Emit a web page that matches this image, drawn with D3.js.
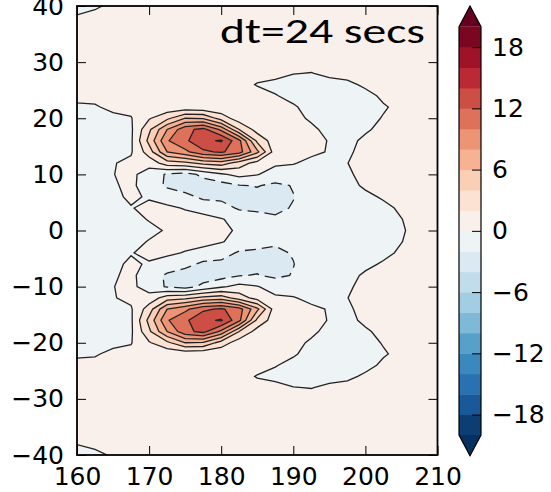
<!DOCTYPE html>
<html>
<head>
<meta charset="utf-8">
<script src="https://cdn.jsdelivr.net/npm/d3@7"></script>
<style>
  body { margin: 0; background: #fff; }
  svg { display: block; }
</style>
</head>
<body>
<div id="chart"></div>
<script>

// grid of the field (2.5 deg lon x 2 deg lat)
let lon = [160, 162.5, 165, 167.5, 170, 172.5, 175, 177.5, 180, 182.5, 185,
           187.5, 190, 192.5, 195, 197.5, 200, 202.5, 205, 207.5, 210];
let lat = [40, 38, 36, 34, 32, 30, 28, 26, 24, 22, 20, 18, 16, 14, 12, 10, 8, 6, 4, 2, 0,
           -2, -4, -6, -8, -10, -12, -14, -16, -18, -20, -22, -24, -26, -28, -30, -32, -34, -36, -38, -40];

let field = [
  [-0.6,-0.2, 0.3, 0.6, 0.6, 0.6, 0.6, 0.6, 0.6, 0.6, 0.6, 0.6, 0.6, 0.6, 0.6, 0.6, 0.6, 0.6, 0.6, 0.6, 0.6],
  [0.15, 0.4, 0.6, 0.6, 0.6, 0.6, 0.6, 0.6, 0.6, 0.6, 0.6, 0.6, 0.6, 0.6, 0.6, 0.6, 0.6, 0.6, 0.6, 0.6, 0.6],
  [ 0.6, 0.6, 0.6, 0.6, 0.6, 0.6, 0.6, 0.6, 0.6, 0.6, 0.6, 0.6, 0.6, 0.6, 0.6, 0.6, 0.6, 0.6, 0.6, 0.6, 0.6],
  [ 0.6, 0.6, 0.6, 0.6, 0.6, 0.6, 0.6, 0.6, 0.6, 0.6, 0.6, 0.6, 0.6, 0.6, 0.6, 0.6, 0.6, 0.6, 0.6, 0.6, 0.6],
  [ 0.6, 0.6, 0.6, 0.6, 0.6, 0.6, 0.6, 0.6, 0.6, 0.6, 0.6, 0.6, 0.6, 0.6, 0.6, 0.6, 0.6, 0.6, 0.6, 0.6, 0.6],
  [ 0.6, 0.6, 0.6, 0.6, 0.6, 0.6, 0.6, 0.6, 0.6, 0.6, 0.6, 0.6, 0.6, 0.6, 0.6, 0.6, 0.6, 0.6, 0.6, 0.6, 0.6],
  [ 0.6, 0.6, 0.6, 0.6, 0.6, 0.6, 0.6, 0.6, 0.6, 0.6, 0.6, 0.6,0.05,-0.05, 0.3, 0.6, 0.6, 0.6, 0.6, 0.6, 0.6],
  [ 0.6, 0.6, 0.6, 0.6, 0.6, 0.6, 0.6, 0.6, 0.6, 0.6,-0.1,-0.5,-0.6,-0.6,-0.5,-0.4, 0.3, 0.6, 0.6, 0.6, 0.6],
  [ 0.5, 0.6, 0.6, 0.6, 0.6, 0.6, 0.6, 0.6, 0.6, 0.6, 0.6, 0.1,-0.5,-0.6,-0.6,-0.6,-0.5, 0.3, 0.6, 0.6, 0.6],
  [-0.3,-0.2, 0.5, 0.5, 0.6, 0.6, 0.6, 0.4, 0.5, 0.6, 0.6, 0.5, 0.2,-0.6,-0.6,-0.6,-0.6,-0.15,0.4, 0.6, 0.6],
  [-0.6,-0.6,-0.5,-0.1, 1.8, 3.5, 6.0, 5.8, 3.1, 0.9, 0.6, 0.6, 0.6,-0.3,-0.6,-0.6,-0.5, 0.1, 0.6, 0.6, 0.6],
  [-0.6,-0.6,-0.6,-0.3, 3.6, 8.0,11.4,12.6, 9.5, 4.0, 1.2, 0.7, 0.6, 0.4,-0.6,-0.6,-0.2, 0.4, 0.6, 0.6, 0.6],
  [-0.6,-0.6,-0.6,-0.3, 4.6, 9.8,11.6,13.6,14.2,10.5, 3.5, 0.9, 0.6, 0.6,-0.1,-0.4, 0.3, 0.6, 0.6, 0.6, 0.6],
  [-0.6,-0.6,-0.5,-0.2, 3.0, 8.0, 9.5,11.6,12.3,10.8, 6.5, 0.9, 0.5, 0.3,-0.1,-0.2, 0.4, 0.6, 0.6, 0.6, 0.6],
  [-0.6,-0.5,-0.1, 0.4, 0.8, 3.0, 3.5, 4.5, 5.0, 3.0, 1.2, 0.3, 0.1,-0.4,-0.6,-0.02,0.5, 0.6, 0.6, 0.6, 0.6],
  [-0.6,-0.5,-0.05,0.5,-1.0,-2.2,-2.8,-1.5,-0.3, 0.6, 0.1,-0.8,-0.8,-0.9,-0.7,-0.2, 0.4, 0.6, 0.6, 0.6, 0.6],
  [-0.6,-0.5,-0.2, 0.4,-1.0,-2.3,-3.0,-3.0,-2.8,-2.1,-1.9,-2.4,-1.9,-1.3,-0.7,-0.4, 0.2, 0.6, 0.6, 0.6, 0.6],
  [-0.6,-0.6,-0.4, 0.3,-0.2,-0.8,-1.4,-2.4,-2.6,-2.6,-2.6,-2.5,-2.05,-1.2,-0.7,-0.6,-0.3,0.15, 0.6, 0.6, 0.6],
  [-0.6,-0.6,-0.5,-0.1, 0.5, 0.3,-0.1,-0.8,-1.0,-2.3,-2.5,-2.3,-1.9,-1.1,-0.7,-0.7,-0.6,-0.3, 0.2, 0.6, 0.6],
  [-0.6,-0.6,-0.6,-0.5, 0.1, 0.6, 0.5, 0.7, 0.1,-0.5,-1.0,-1.8,-1.2,-0.9,-0.7,-0.7,-0.6,-0.5,-0.03,0.5, 0.6],
  [-0.6,-0.6,-0.6,-0.5,-0.4,0.15, 0.6, 0.6, 0.5,-0.3,-0.6,-0.7,-0.8,-0.8,-0.7,-0.7,-0.6,-0.55,-0.15,0.5,0.6],
  [-0.6,-0.6,-0.6,-0.5, 0.1, 0.6, 0.5, 0.7, 0.1,-0.5,-1.0,-1.8,-1.2,-0.9,-0.7,-0.7,-0.6,-0.5,-0.03,0.5, 0.6],
  [-0.6,-0.6,-0.5,-0.1, 0.5, 0.3,-0.1,-0.8,-1.0,-2.3,-2.5,-2.3,-1.9,-1.1,-0.7,-0.7,-0.6,-0.3, 0.2, 0.6, 0.6],
  [-0.6,-0.6,-0.4, 0.3,-0.2,-0.8,-1.4,-2.4,-2.6,-2.6,-2.6,-2.5,-2.05,-1.2,-0.7,-0.6,-0.3,0.15, 0.6, 0.6, 0.6],
  [-0.6,-0.5,-0.2, 0.4,-1.0,-2.3,-3.0,-3.0,-2.8,-2.1,-1.9,-2.4,-1.9,-1.3,-0.7,-0.4, 0.2, 0.6, 0.6, 0.6, 0.6],
  [-0.6,-0.5,-0.05,0.5,-1.0,-2.2,-2.8,-1.5,-0.3, 0.6, 0.1,-0.8,-0.8,-0.9,-0.7,-0.2, 0.4, 0.6, 0.6, 0.6, 0.6],
  [-0.6,-0.5,-0.1, 0.4, 0.8, 3.0, 3.5, 4.5, 5.0, 3.0, 1.2, 0.3, 0.1,-0.4,-0.6,-0.02,0.5, 0.6, 0.6, 0.6, 0.6],
  [-0.6,-0.6,-0.5,-0.2, 3.0, 8.0, 9.5,11.6,12.3,10.8, 6.5, 0.9, 0.5, 0.3,-0.1,-0.2, 0.4, 0.6, 0.6, 0.6, 0.6],
  [-0.6,-0.6,-0.6,-0.3, 4.6, 9.8,11.6,13.6,14.2,10.5, 3.5, 0.9, 0.6, 0.6,-0.1,-0.4, 0.3, 0.6, 0.6, 0.6, 0.6],
  [-0.6,-0.6,-0.6,-0.3, 3.6, 8.0,11.4,12.6, 9.5, 4.0, 1.2, 0.7, 0.6, 0.4,-0.6,-0.6,-0.2, 0.4, 0.6, 0.6, 0.6],
  [-0.6,-0.6,-0.5,-0.1, 1.8, 3.5, 6.0, 5.8, 3.1, 0.9, 0.6, 0.6, 0.6,-0.3,-0.6,-0.6,-0.5, 0.1, 0.6, 0.6, 0.6],
  [-0.3,-0.2, 0.5, 0.5, 0.6, 0.6, 0.6, 0.4, 0.5, 0.6, 0.6, 0.5, 0.2,-0.6,-0.6,-0.6,-0.6,-0.15,0.4, 0.6, 0.6],
  [ 0.5, 0.6, 0.6, 0.6, 0.6, 0.6, 0.6, 0.6, 0.6, 0.6, 0.6, 0.1,-0.5,-0.6,-0.6,-0.6,-0.5, 0.3, 0.6, 0.6, 0.6],
  [ 0.6, 0.6, 0.6, 0.6, 0.6, 0.6, 0.6, 0.6, 0.6, 0.6,-0.1,-0.5,-0.6,-0.6,-0.5,-0.4, 0.3, 0.6, 0.6, 0.6, 0.6],
  [ 0.6, 0.6, 0.6, 0.6, 0.6, 0.6, 0.6, 0.6, 0.6, 0.6, 0.6, 0.6,0.05,-0.05, 0.3, 0.6, 0.6, 0.6, 0.6, 0.6, 0.6],
  [ 0.6, 0.6, 0.6, 0.6, 0.6, 0.6, 0.6, 0.6, 0.6, 0.6, 0.6, 0.6, 0.6, 0.6, 0.6, 0.6, 0.6, 0.6, 0.6, 0.6, 0.6],
  [ 0.6, 0.6, 0.6, 0.6, 0.6, 0.6, 0.6, 0.6, 0.6, 0.6, 0.6, 0.6, 0.6, 0.6, 0.6, 0.6, 0.6, 0.6, 0.6, 0.6, 0.6],
  [ 0.6, 0.6, 0.6, 0.6, 0.6, 0.6, 0.6, 0.6, 0.6, 0.6, 0.6, 0.6, 0.6, 0.6, 0.6, 0.6, 0.6, 0.6, 0.6, 0.6, 0.6],
  [ 0.6, 0.6, 0.6, 0.6, 0.6, 0.6, 0.6, 0.6, 0.6, 0.6, 0.6, 0.6, 0.6, 0.6, 0.6, 0.6, 0.6, 0.6, 0.6, 0.6, 0.6],
  [0.05, 0.4, 0.6, 0.6, 0.6, 0.6, 0.6, 0.6, 0.6, 0.6, 0.6, 0.6, 0.6, 0.6, 0.6, 0.6, 0.6, 0.6, 0.6, 0.6, 0.6],
  [-0.7,-0.4, 0.2, 0.6, 0.6, 0.6, 0.6, 0.6, 0.6, 0.6, 0.6, 0.6, 0.6, 0.6, 0.6, 0.6, 0.6, 0.6, 0.6, 0.6, 0.6]
];

let levels = [-20, -18, -16, -14, -12, -10, -8, -6, -4, -2, 0, 2, 4, 6, 8, 10, 12, 14, 16, 18, 20];
let cbarTicks = [-18, -12, -6, 0, 6, 12, 18];
let xTicks = [160, 170, 180, 190, 200, 210];
let yTicks = [-40, -30, -20, -10, 0, 10, 20, 30, 40];
let label = 'dt=24 secs';

const W = 551, H = 492;
const svg = d3.select('#chart').append('svg').attr('width', W).attr('height', H);

const x = d3.scaleLinear().domain([160, 210]).range([77, 437.5]);
const y = d3.scaleLinear().domain([-40, 40]).range([455, 6]);

// RdBu reversed, linear between the brewer stops like matplotlib does
const rdbu = ['#053061', '#2166ac', '#4393c3', '#92c5de', '#d1e5f0', '#f7f7f7',
              '#fddbc7', '#f4a582', '#d6604d', '#b2182b', '#67001f'];
const cmap = d3.scaleLinear().domain(rdbu.map((c, i) => i / 10)).range(rdbu).interpolate(d3.interpolateRgb);
const norm = d3.scaleLinear().domain([levels[0], levels[levels.length - 1]]).range([0, 1]);
let bandColor = function(lo){
  if (lo >= levels[levels.length - 1]) return cmap(1);
  return cmap(norm(lo + 1));
};

// contours
const nx = lon.length, ny = lat.length;
const bands = d3.contours().size([nx, ny]).thresholds(levels)(field.flat());
const gx = d3.scaleLinear().domain([0.5, nx - 0.5]).range([lon[0], lon[nx - 1]]);
const gy = d3.scaleLinear().domain([0.5, ny - 0.5]).range([lat[0], lat[ny - 1]]);
const path = d3.geoPath(d3.geoTransform({
  point: function(px, py){ this.stream.point(x(gx(px)), y(gy(py))); }
}));

svg.append('clipPath').attr('id', 'plotClip')
  .append('rect').attr('x', x(160)).attr('y', y(40))
  .attr('width', x(210) - x(160)).attr('height', y(-40) - y(40));

const plot = svg.append('g').attr('clip-path', 'url(#plotClip)');
plot.append('g').selectAll('path').data(bands).join('path')
  .attr('d', path)
  .attr('fill', d => bandColor(d.value));
plot.append('g').selectAll('path').data(bands).join('path')
  .attr('d', path)
  .attr('fill', 'none')
  .attr('stroke', '#222')
  .attr('stroke-width', 1.3)
  .attr('stroke-dasharray', d => d.value < 0 ? '11,6' : null);

// annotation
svg.append('text')
  .attr('x', 220).attr('y', 43)
  .attr('font-family', 'Carlito, Calibri, Lato, "Open Sans", sans-serif')
  .attr('font-size', 34)
  .attr('fill', '#000')
  .attr('textLength', 205)
  .attr('lengthAdjust', 'spacingAndGlyphs')
  .text(label);

// axes, ticks inside on all four sides
const tickFont = '"DejaVu Sans", sans-serif';
let styleAxis = function(g){
  g.select('.domain').remove();
  g.selectAll('.tick line').attr('stroke', '#000').attr('stroke-width', 1);
  g.selectAll('.tick text').attr('fill', '#000');
  g.attr('font-family', tickFont).attr('font-size', 25);
};
svg.append('g').attr('transform', `translate(0,${y(-40)})`)
  .call(d3.axisBottom(x).tickValues(xTicks).tickSize(-9).tickPadding(12).tickFormat(d3.format('d')))
  .call(styleAxis);
svg.append('g').attr('transform', `translate(0,${y(40)})`)
  .call(d3.axisTop(x).tickValues(xTicks).tickSize(-9).tickFormat(''))
  .call(styleAxis);
svg.append('g').attr('transform', `translate(${x(160)},0)`)
  .call(d3.axisLeft(y).tickValues(yTicks).tickSize(-9).tickPadding(13).tickFormat(d3.format('d')))
  .call(styleAxis);
svg.append('g').attr('transform', `translate(${x(210)},0)`)
  .call(d3.axisRight(y).tickValues(yTicks).tickSize(-9).tickFormat(''))
  .call(styleAxis);

svg.append('rect')
  .attr('x', x(160)).attr('y', y(40))
  .attr('width', x(210) - x(160)).attr('height', y(-40) - y(40))
  .attr('fill', 'none').attr('stroke', '#000').attr('stroke-width', 1.8);

// colorbar with extend both
const cbX0 = 459, cbX1 = 481;
const cy = d3.scaleLinear().domain([levels[0], levels[levels.length - 1]]).range([435, 26.7]);
const ext = 20.7;
const cbar = svg.append('g');
cbar.selectAll('rect').data(levels.slice(0, -1)).join('rect')
  .attr('x', cbX0).attr('width', cbX1 - cbX0)
  .attr('y', d => cy(d + 2)).attr('height', d => cy(d) - cy(d + 2) + 0.5)
  .attr('fill', d => bandColor(d));
const xm = (cbX0 + cbX1) / 2;
cbar.append('path')
  .attr('d', `M${cbX0},${cy(20)}L${xm},${cy(20) - ext}L${cbX1},${cy(20)}Z`)
  .attr('fill', cmap(1));
cbar.append('path')
  .attr('d', `M${cbX0},${cy(-20)}L${xm},${cy(-20) + ext}L${cbX1},${cy(-20)}Z`)
  .attr('fill', cmap(0));
cbar.append('path')
  .attr('d', `M${cbX0},${cy(20)}L${xm},${cy(20) - ext}L${cbX1},${cy(20)}L${cbX1},${cy(-20)}` +
             `L${xm},${cy(-20) + ext}L${cbX0},${cy(-20)}Z`)
  .attr('fill', 'none').attr('stroke', '#000').attr('stroke-width', 1.2);
svg.append('g').attr('transform', `translate(${cbX1},0)`)
  .call(d3.axisRight(cy).tickValues(cbarTicks).tickSize(-9).tickPadding(11).tickFormat(d3.format('d')))
  .call(styleAxis);

</script>
</body>
</html>
